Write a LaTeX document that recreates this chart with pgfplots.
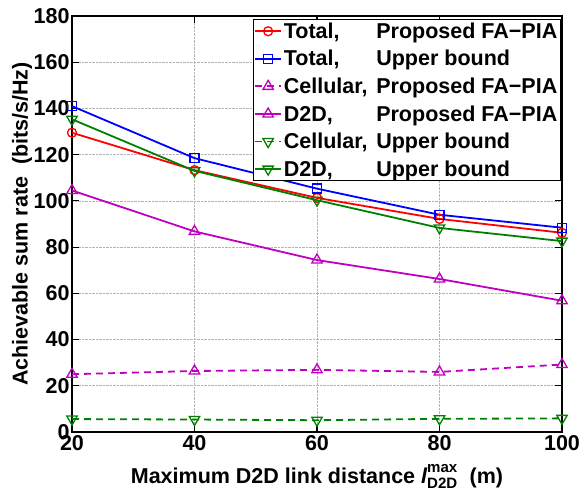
\documentclass[border=0pt]{standalone}
\usepackage{amsmath}
\usepackage{pgfplots}
\pgfplotsset{compat=1.18}
\usepackage{fontspec}
\setmainfont{Liberation Sans}
\definecolor{mmag}{rgb}{0.75,0,0.75}
\definecolor{mgreen}{rgb}{0,0.5,0}
\newcommand\lab[2]{\makebox[4.3em][l]{#1}#2}
\begin{document}
\begin{tikzpicture}
\begin{axis}[
  scale only axis,
  width=490pt, height=416pt,
  xmin=20, xmax=100, ymin=0, ymax=180,
  xtick={20,40,60,80,100}, ytick={0,20,...,180},
  grid=major,
  major grid style={densely dotted, gray!60, line width=0.6pt},
  axis line style={line width=1.8pt},
  tick style={line width=1.2pt, black},
  major tick length=7pt,
  tick align=inside,
  /pgf/number format/assume math mode=true,
  tick label style={font=\fontsize{21.5}{23}\selectfont\bfseries},
  label style={font=\fontsize{21.5}{23}\selectfont\bfseries},
  yticklabel style={xshift=1pt},
  xlabel={Maximum D2D link distance $\textit{l}^{\textbf{max}}_{\textbf{D2D}}$\ \ (m)},
  ylabel={Achievable sum rate\ \ (bits/s/Hz)},
  xlabel style={at={(axis description cs:0.5,0)}, anchor=base, yshift=-51pt},
  ylabel style={at={(axis description cs:-0.102,0.5)}, anchor=center},
  legend cell align=left,
  legend style={at={(1,1)}, anchor=north east, xshift=-1pt, yshift=-3pt,
    font=\fontsize{21.5}{24}\selectfont\bfseries, draw=black, line width=1.4pt,
    inner sep=1pt, row sep=6.5pt},
  legend image code/.code={\draw[mark repeat=2,mark phase=2] plot coordinates {(0cm,0cm)(0.45cm,0cm)(0.9cm,0cm)};},
  every axis plot/.append style={line width=1.8pt},
]
\addplot[red, mark=o, mark size=4.5pt, mark options={solid, line width=1.3pt}] coordinates {(20,129.5)(40,113.3)(60,101.3)(80,92.2)(100,86.2)};
\addlegendentry{\lab{Total,}{Proposed FA−PIA}}
\addplot[blue, mark=square, mark size=4.5pt, mark options={solid, line width=1.3pt}] coordinates {(20,141)(40,118.5)(60,105.3)(80,94)(100,88.4)};
\addlegendentry{\lab{Total,}{Upper bound}}
\addplot[mmag, dashed, dash pattern=on 7pt off 5pt, mark=triangle, mark size=6pt, mark options={solid, line width=1.3pt}] coordinates {(20,25)(40,26.4)(60,26.9)(80,26)(100,29.2)};
\addlegendentry{\lab{Cellular,}{Proposed FA−PIA}}
\addplot[mmag, mark=triangle, mark size=6pt, mark options={solid, line width=1.3pt}] coordinates {(20,104.5)(40,86.8)(60,74.4)(80,66.2)(100,56.8)};
\addlegendentry{\lab{D2D,}{Proposed FA−PIA}}
\addplot[mgreen, dashed, dash pattern=on 7pt off 5pt, mark=triangle, mark size=6pt, mark options={solid, rotate=180, line width=1.3pt}] coordinates {(20,5.6)(40,5.4)(60,5.1)(80,5.7)(100,5.9)};
\addlegendentry{\lab{Cellular,}{Upper bound}}
\addplot[mgreen, mark=triangle, mark size=6pt, mark options={solid, rotate=180, line width=1.3pt}] coordinates {(20,135.3)(40,113)(60,100.3)(80,88.3)(100,82.6)};
\addlegendentry{\lab{D2D,}{Upper bound}}
\end{axis}
\pgfresetboundingbox
\useasboundingbox ([xshift=-72pt,yshift=-55pt]current axis.south west) rectangle ([xshift=19pt,yshift=16pt]current axis.north east);
\end{tikzpicture}
\end{document}
